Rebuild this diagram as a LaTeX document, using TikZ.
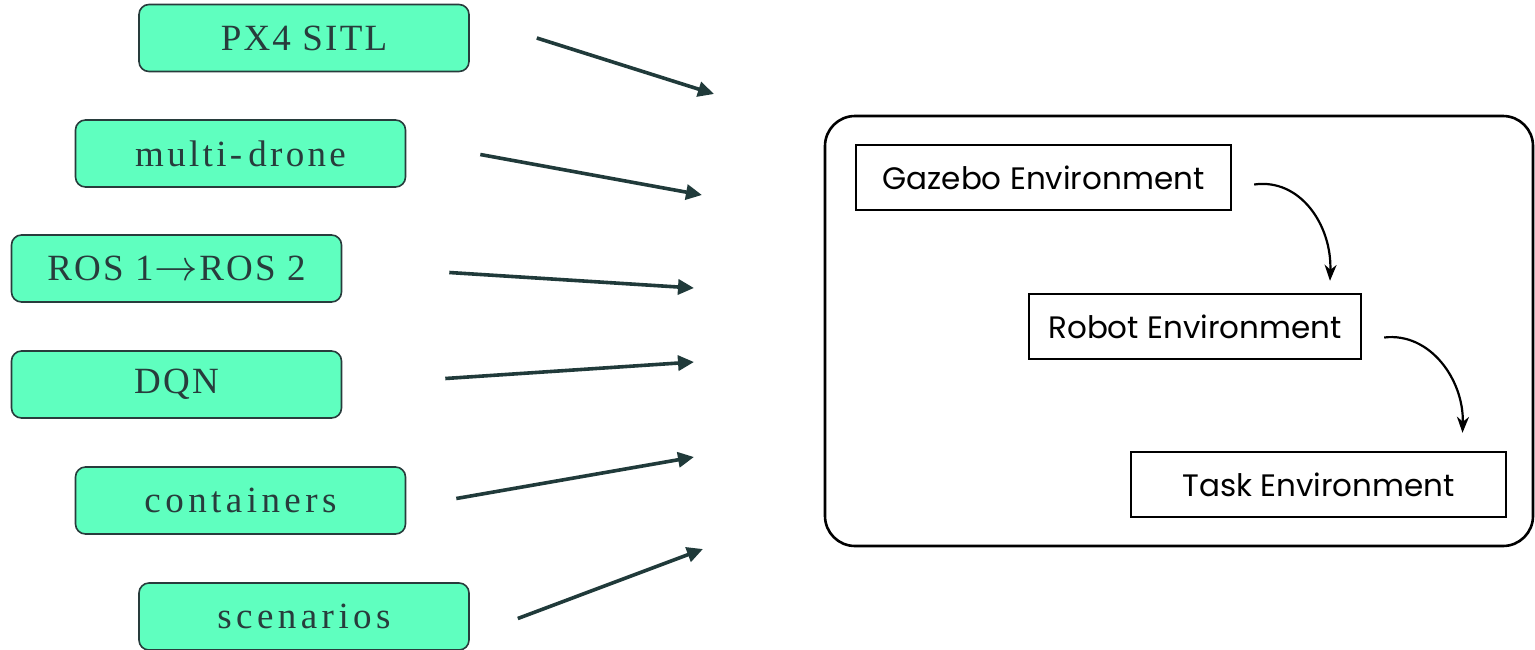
\documentclass[tikz,border=0pt]{standalone}
\usepackage{fontspec}
\usepackage{graphicx}
\setmainfont{Liberation Serif}
\newfontfamily\envfont{Poppins}
\usetikzlibrary{arrows.meta,calc}
\definecolor{mint}{RGB}{95,255,191}
\definecolor{slate}{RGB}{40,60,60}
\definecolor{arrowslate}{RGB}{32,58,58}
\tikzset{
  x=1pt, y=-1pt,
  featbox/.style={draw=slate, line width=1.6pt, fill=mint, rounded corners=10pt,
    minimum width=330pt, minimum height=67pt, inner sep=0pt,
    text=slate, font=\addfontfeature{LetterSpace=6}\fontsize{37}{40}\selectfont},
  widebox/.style={featbox, font=\addfontfeature{LetterSpace=12}\fontsize{37}{40}\selectfont},
  feedarrow/.style={draw=arrowslate, line width=3.6pt,
    -{Triangle[length=16pt,width=15pt]}},
  envbox/.style={draw=black, line width=2.4pt, inner sep=0pt,
    minimum height=65pt, font=\envfont\fontsize{31}{34}\selectfont},
  flowarrow/.style={draw=black, line width=2.2pt,
    -{Stealth[length=16pt,width=12pt,inset=5pt]}}
}
\newcommand{\longarrowsym}{\scalebox{1.75}{$\rightarrow$}}
\begin{document}
\begin{tikzpicture}
\useasboundingbox (0,0) rectangle (1535,649);

% feature boxes on the left
\node[featbox] (px4)   at (304,38)     {PX4 SITL};
\node[featbox, font=\addfontfeature{LetterSpace=9}\fontsize{37}{40}\selectfont]
               (multi) at (240.5,153.5) {multi-\hspace{6pt}drone};
\node[featbox] (ros)   at (176.5,268.5) {ROS 1\hspace{1pt}\longarrowsym\hspace{1pt}ROS 2};
\node[featbox] (dqn)   at (176.5,384.5) {DQN};
\node[widebox] (cont)  at (240.5,500.5) {containers};
\node[widebox] (scen)  at (304,616.5)   {scenarios};

% free ends of the feeding arrows
\coordinate (t1) at (714,94);
\coordinate (t2) at (702,195);
\coordinate (t3) at (694,288);
\coordinate (t4) at (694,362);
\coordinate (t5) at (694,457);
\coordinate (t6) at (703,549);

\draw[feedarrow] ($(px4.east)+(67,0)$)   -- (t1);
\draw[feedarrow] ($(multi.east)+(74,1)$) -- (t2);
\draw[feedarrow] ($(ros.east)+(107,4)$)  -- (t3);
\draw[feedarrow] ($(dqn.east)+(103,-6)$) -- (t4);
\draw[feedarrow] ($(cont.east)+(50,-2)$) -- (t5);
\draw[feedarrow] ($(scen.east)+(48,2)$)  -- (t6);

% environment stack
\node[draw=black, line width=2.6pt, rounded corners=30pt, inner sep=0pt,
      minimum width=708pt, minimum height=430pt] (frame) at (1179,331) {};
\node[envbox, minimum width=375pt] (gazebo) at (1043.5,177.5) {Gazebo Environment};
\node[envbox, minimum width=332pt] (robot)  at (1195,326.5)   {Robot Environment};
\node[envbox, minimum width=375pt] (task)   at (1318.5,484.5) {Task Environment};

\draw[flowarrow] ($(gazebo.east)+(22,7)$)
  .. controls (1300,178) and (1332,225) .. ($(robot.north)+(135,-12)$);
\draw[flowarrow] ($(robot.east)+(22,11)$)
  .. controls (1430,332) and (1464,380) .. ($(task.north)+(144,-18)$);
\end{tikzpicture}
\end{document}
